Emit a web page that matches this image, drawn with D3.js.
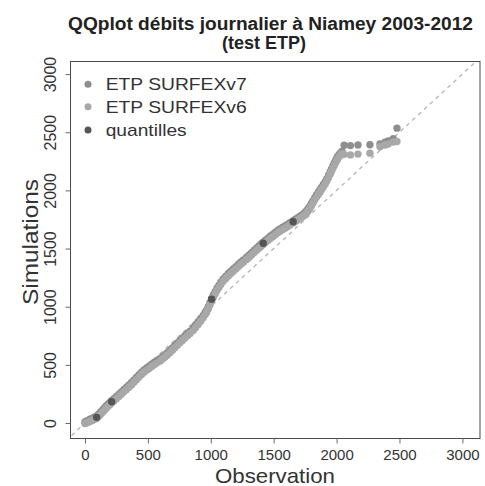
<!DOCTYPE html>
<html>
<head>
<meta charset="utf-8">
<script src="https://cdn.jsdelivr.net/npm/d3@7"></script>
<style>
  html, body { margin: 0; padding: 0; background: #ffffff; }
  svg { display: block; font-family: "Liberation Sans", Arial, Helvetica, sans-serif; }
</style>
</head>
<body>
<svg id="chart" width="485" height="486"></svg>
<script>
// ---- data ----
const titleLines = ["QQplot débits journalier à Niamey 2003-2012", "(test ETP)"];
const xLabel = "Observation";
const yLabel = "Simulations";
const xTicks = [0, 500, 1000, 1500, 2000, 2500, 3000];
const yTicks = [0, 500, 1000, 1500, 2000, 2500, 3000];
const seriesNames = ["ETP SURFEXv7", "ETP SURFEXv6", "quantilles"];

// observed quantiles (shared by both simulations)
const obsQ = [0, 15, 30, 45, 60, 75, 93, 110, 125, 140, 155, 170, 185, 200, 212, 230, 250, 270, 290, 310,
  331, 350, 370, 390, 410, 430, 450, 470, 490, 510, 530, 550, 570, 596, 615, 635, 655, 675, 695, 715,
  735, 755, 775, 795, 815, 835, 861, 880, 900, 920, 940, 955, 967, 980, 993, 1007, 1020, 1035, 1050, 1065,
  1080, 1099, 1120, 1140, 1160, 1179, 1200, 1220, 1240, 1260, 1285, 1305, 1325, 1345, 1365, 1385, 1400, 1417, 1435, 1455,
  1475, 1495, 1515, 1535, 1550, 1570, 1590, 1610, 1630, 1655, 1675, 1695, 1715, 1735, 1750, 1762, 1775, 1788, 1800, 1812,
  1825, 1840, 1855, 1868, 1880, 1895, 1910, 1923, 1937, 1950, 1960, 1971, 1982, 1993, 2003, 2011, 2025, 2042,
  2060, 2110, 2170, 2265, 2345, 2385, 2410, 2450, 2480];

const simV7 = [10, 18, 27, 34, 42, 50, 58, 78, 95, 113, 130, 148, 165, 180, 193, 210, 228, 248, 268, 288,
  308, 328, 348, 370, 393, 415, 438, 457, 473, 488, 505, 520, 535, 552, 568, 585, 605, 625, 646, 667,
  688, 710, 730, 750, 770, 790, 815, 845, 872, 898, 925, 950, 970, 1000, 1035, 1070, 1100, 1130, 1160, 1185,
  1210, 1239, 1262, 1285, 1305, 1325, 1345, 1365, 1385, 1403, 1426, 1445, 1465, 1485, 1505, 1525, 1540, 1555, 1571, 1590,
  1608, 1624, 1640, 1657, 1669, 1682, 1695, 1708, 1722, 1740, 1754, 1768, 1782, 1798, 1812, 1826, 1845, 1865, 1887, 1910,
  1935, 1960, 1985, 2005, 2025, 2050, 2075, 2100, 2130, 2160, 2185, 2210, 2235, 2260, 2280, 2295, 2315, 2335,
  2388, 2385, 2390, 2392, 2400, 2415, 2425, 2445, 2535];

const simV6 = [-4, 2, 9, 16, 24, 30, 40, 58, 75, 93, 110, 128, 145, 160, 173, 190, 208, 228, 248, 268,
  288, 308, 328, 350, 373, 395, 418, 437, 453, 468, 485, 500, 515, 532, 548, 565, 585, 605, 626, 647,
  668, 690, 710, 730, 750, 770, 795, 822, 848, 876, 904, 930, 950, 980, 1015, 1050, 1080, 1110, 1140, 1165,
  1190, 1219, 1242, 1265, 1285, 1305, 1325, 1345, 1365, 1383, 1406, 1425, 1445, 1465, 1485, 1505, 1520, 1535, 1551, 1570,
  1588, 1604, 1620, 1637, 1649, 1662, 1675, 1688, 1702, 1720, 1734, 1748, 1762, 1778, 1792, 1806, 1825, 1845, 1867, 1890,
  1915, 1940, 1965, 1985, 2005, 2030, 2055, 2080, 2110, 2140, 2165, 2190, 2215, 2240, 2260, 2275, 2295, 2315,
  2310, 2305, 2312, 2320, 2375, 2390, 2398, 2415, 2420];

// quantile points (obs, sim)
const quantObs = [93, 212, 1007, 1417, 1655];
const quantSim = [49, 183, 1065, 1545, 1731];

const colors = ["#8e8e8e", "#a8a8a8", "#555555"];

// ---- drawing ----
const svg = d3.select("#chart");
const box = { left: 70.5, right: 480, top: 61.5, bottom: 438.5 };

const x = d3.scaleLinear().domain([-115, 3140]).range([box.left, box.right]);
const y = d3.scaleLinear().domain([-133, 3108]).range([box.bottom, box.top]);

svg.append("rect").attr("width", 485).attr("height", 486).attr("fill", "#ffffff");

svg.append("clipPath").attr("id", "clip").append("rect")
  .attr("x", box.left).attr("y", box.top)
  .attr("width", box.right - box.left).attr("height", box.bottom - box.top);

const plot = svg.append("g").attr("clip-path", "url(#clip)");

// 1:1 dashed line
plot.append("line")
  .attr("x1", x(-200)).attr("y1", y(-200))
  .attr("x2", x(3300)).attr("y2", y(3300))
  .attr("stroke", "#b4b4b4").attr("stroke-width", 1.3)
  .attr("stroke-dasharray", "4,4");

const r = 3.7;
const ptsV7 = obsQ.map((o, i) => [o, simV7[i]]);
const ptsV6 = obsQ.map((o, i) => [o, simV6[i]]);

plot.append("g").selectAll("circle").data(ptsV7).join("circle")
  .attr("cx", d => x(d[0])).attr("cy", d => y(d[1])).attr("r", r)
  .attr("fill", colors[0]);
plot.append("g").selectAll("circle").data(ptsV6).join("circle")
  .attr("cx", d => x(d[0])).attr("cy", d => y(d[1])).attr("r", r)
  .attr("fill", colors[1]);
plot.append("g").selectAll("circle").data(quantObs.map((o, i) => [o, quantSim[i]])).join("circle")
  .attr("cx", d => x(d[0])).attr("cy", d => y(d[1])).attr("r", r)
  .attr("fill", colors[2]);

// box
svg.append("rect")
  .attr("x", box.left).attr("y", box.top)
  .attr("width", box.right - box.left).attr("height", box.bottom - box.top)
  .attr("fill", "none").attr("stroke", "#4a4a4a").attr("stroke-width", 1);

// x axis
const gx = svg.append("g").attr("transform", `translate(0,${box.bottom})`)
  .call(d3.axisBottom(x).tickValues(xTicks).tickFormat(d3.format("d")).tickSize(5).tickPadding(6));
gx.select(".domain").remove();
gx.selectAll(".tick line").attr("stroke", "#6a6a6a");
gx.selectAll(".tick text").attr("fill", "#333").attr("font-size", 15)
  .attr("font-family", "'Liberation Sans', Arial, sans-serif");

// y axis
const gy = svg.append("g").attr("transform", `translate(${box.left},0)`)
  .call(d3.axisLeft(y).tickValues(yTicks).tickFormat(d3.format("d")).tickSize(5));
gy.select(".domain").remove();
gy.selectAll(".tick line").attr("stroke", "#6a6a6a");
gy.selectAll(".tick text")
  .attr("transform", "rotate(-90)")
  .attr("x", 0).attr("y", -15).attr("dy", 0)
  .attr("text-anchor", "middle")
  .attr("fill", "#333").attr("font-size", 16)
  .attr("font-family", "'Liberation Sans', Arial, sans-serif");

// title
svg.append("text").attr("x", 270.5).attr("y", 30).attr("text-anchor", "middle")
  .attr("font-weight", "bold").attr("font-size", 18).attr("fill", "#222")
  .attr("textLength", 405).attr("lengthAdjust", "spacingAndGlyphs")
  .text(titleLines[0]);
svg.append("text").attr("x", 264).attr("y", 49).attr("text-anchor", "middle")
  .attr("font-weight", "bold").attr("font-size", 18).attr("fill", "#222")
  .text(titleLines[1]);

// axis labels
svg.append("text").attr("x", 275).attr("y", 483).attr("text-anchor", "middle")
  .attr("font-size", 21).attr("fill", "#333")
  .attr("textLength", 120).attr("lengthAdjust", "spacingAndGlyphs")
  .text(xLabel);
svg.append("text").attr("transform", "translate(38,242) rotate(-90)")
  .attr("text-anchor", "middle").attr("font-size", 22).attr("fill", "#333")
  .attr("textLength", 126).attr("lengthAdjust", "spacingAndGlyphs")
  .text(yLabel);

// legend
const legY = [84.3, 106.7, 130];
const legW = [141, 141, 81];
const leg = svg.append("g");
seriesNames.forEach((name, i) => {
  leg.append("circle").attr("cx", 88).attr("cy", legY[i]).attr("r", 3.5).attr("fill", colors[i]);
  leg.append("text").attr("x", 105.7).attr("y", legY[i] + 5.8)
    .attr("font-size", 17).attr("fill", "#333")
    .attr("textLength", legW[i]).attr("lengthAdjust", "spacingAndGlyphs")
    .text(name);
});
</script>
</body>
</html>
